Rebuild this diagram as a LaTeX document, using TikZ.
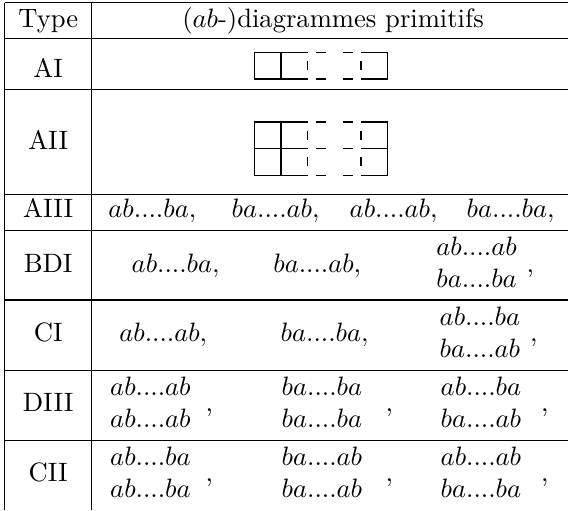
\documentclass[tikz,border=0pt]{standalone}
\newcommand\dgH[1]{%
 \draw[cell] (254.3,#1) -- (307.6,#1);
 \draw[cell] (360.9,#1) -- (387.55,#1);
 \draw[cell] (315.9,#1) -- (326.0,#1);
 \draw[cell] (342.5,#1) -- (352.7,#1);}
\newcommand\dgV[1]{%
 \draw[cell] (254.3,#1) -- ++(0,26.65);
 \draw[cell] (280.95,#1) -- ++(0,26.65);
 \draw[cell] (387.55,#1) -- ++(0,26.65);
 \draw[cell] (307.6,#1+8.8) -- ++(0,8.9);
 \draw[cell] (360.9,#1+8.8) -- ++(0,8.9);}
\newcommand\twoline[2]{$\begin{array}{@{}c@{}}#1\\#2\end{array}$}
\begin{document}
\begin{tikzpicture}[x=0.376pt,y=-0.376pt,
  rule/.style={line width=0.45pt},
  cell/.style={line width=0.45pt},
  lbl/.style={anchor=base,inner sep=0pt},
  ent/.style={anchor=base west,inner sep=0pt}]
\useasboundingbox (0,0) rectangle (568,510);
% table rules
\foreach \yy in {2.5,38.3,89.3,194.7,230.7,300,370.3,440.3}
  \draw[rule] (4.7,\yy) -- (568,\yy);
\draw[rule] (4.7,2.5) -- (4.7,510);
\draw[rule] (91.7,2.5) -- (91.7,510);
% AI diagram
\dgH{52.3}\dgH{78.95}\dgV{52.3}
% AII diagram
\dgH{122}\dgH{148.65}\dgH{175.3}\dgV{122}\dgV{148.65}
% header
\node[lbl] (hType) at (48.2,27.7) {Type};
\node[lbl] (hDiag) at (333,27.7) {($ab$-)diagrammes primitifs};
% labels
\node[lbl] (tAI) at (48.2,77.7) {AI};
\node[lbl] (tAII) at (48.2,149) {AII};
\node[lbl] (tAIII) at (48.2,217.7) {AIII};
\node[lbl] (tBDI) at (48.2,272) {BDI};
\node[lbl] (tCI) at (48.2,341.5) {CI};
\node[lbl] (tDIII) at (48.2,411.5) {DIII};
\node[lbl] (tCII) at (48.2,481.5) {CII};
% AIII
\node[ent] (a1) at (107.9,217.7) {$ab....ba,$};
\node[ent] (a2) at (231.2,217.7) {$ba....ab,$};
\node[ent] (a3) at (349.2,217.7) {$ab....ab,$};
\node[ent] (a4) at (466.2,217.7) {$ba....ba,$};
% BDI
\node[ent] (b1) at (131.2,272) {$ab....ba,$};
\node[ent] (b2) at (272.8,272) {$ba....ab,$};
\node[ent] (b3) at (435.8,272) {\twoline{ab....ab}{ba....ba}};
\node[ent] (b3c) at (526,272) {,};
% CI
\node[ent] (c1) at (118.8,341.5) {$ab....ab,$};
\node[ent] (c2) at (280.2,341.5) {$ba....ba,$};
\node[ent] (c3) at (439.2,341.5) {\twoline{ab....ba}{ba....ab}};
\node[ent] (c3c) at (529.6,341.5) {,};
% DIII
\node[ent] (d1) at (109.7,411.5) {\twoline{ab....ab}{ab....ab}};
\node[ent] (d1c) at (205,411.5) {,};
\node[ent] (d2) at (281.2,411.5) {\twoline{ba....ba}{ba....ba}};
\node[ent] (d2c) at (385,411.5) {,};
\node[ent] (d3) at (440.2,411.5) {\twoline{ab....ba}{ba....ab}};
\node[ent] (d3c) at (540.5,411.5) {,};
% CII
\node[ent] (e1) at (109.7,481.5) {\twoline{ab....ba}{ab....ba}};
\node[ent] (e1c) at (205,481.5) {,};
\node[ent] (e2) at (281.2,481.5) {\twoline{ba....ab}{ba....ab}};
\node[ent] (e2c) at (385,481.5) {,};
\node[ent] (e3) at (440.2,481.5) {\twoline{ab....ab}{ba....ba}};
\node[ent] (e3c) at (540.5,481.5) {,};
\end{tikzpicture}
\end{document}
